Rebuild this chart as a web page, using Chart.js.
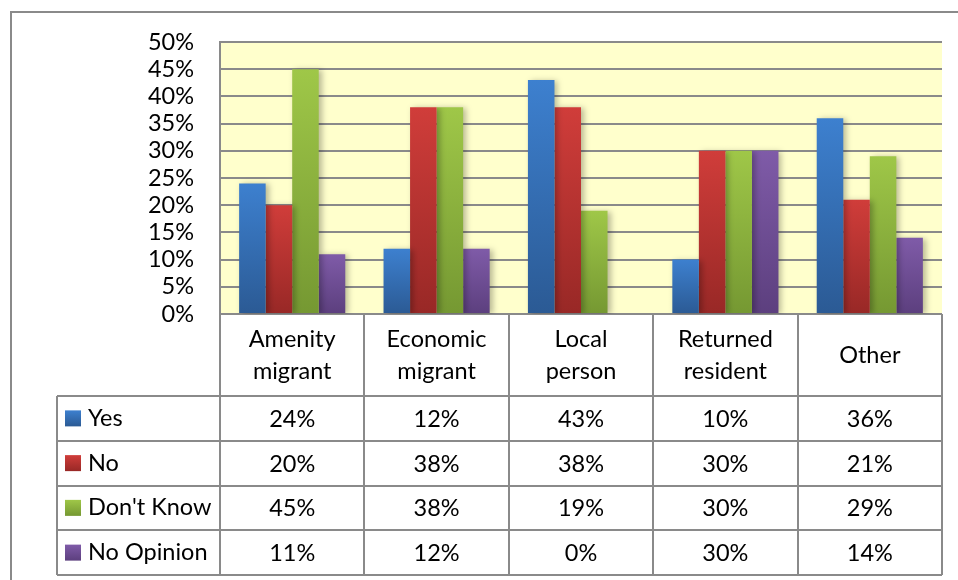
<!DOCTYPE html>
<html>
<head>
<meta charset="utf-8">
<script src="https://cdn.jsdelivr.net/npm/chart.js@4/dist/chart.umd.min.js"></script>
<style>
  html, body { margin: 0; padding: 0; background: #fff; }
  #wrap { width: 958px; height: 580px; position: relative; }
</style>
</head>
<body>
<div id="wrap"><canvas id="chart" width="958" height="580"></canvas></div>
<script>
/* =====================
   Data
   ===================== */
const categories = [
  ['Amenity', 'migrant'],
  ['Economic', 'migrant'],
  ['Local', 'person'],
  ['Returned', 'resident'],
  ['Other']
];
const seriesNames = ['Yes', 'No', "Don't Know", 'No Opinion'];
const yesValues = [24, 12, 43, 10, 36];
const noValues = [20, 38, 38, 30, 21];
const dontKnowValues = [45, 38, 19, 30, 29];
const noOpinionValues = [11, 12, 0, 30, 14];
const yTicks = [0, 5, 10, 15, 20, 25, 30, 35, 40, 45, 50];

// top / bottom gradient colours per series
const seriesColors = [
  ['#3d80cf', '#2b5a94'],
  ['#d03d3a', '#982826'],
  ['#9fc748', '#759832'],
  ['#7f5ba8', '#5c3f7e']
];

const FONT = "Lato, 'Open Sans', sans-serif";
const FONT_SIZE = 23.5;
const GRID = '#8a8a8a';

function barGradient(ctx, i) {
  const chart = ctx.chart;
  const [top, bottom] = seriesColors[i];
  const area = chart.chartArea;
  if (!area || ctx.type !== 'data') return top;
  const y = chart.scales.y.getPixelForValue(ctx.raw);
  const h = Math.max(area.bottom - y, 1);
  const g = chart.ctx.createLinearGradient(0, y, 0, y + h);
  g.addColorStop(0, top);
  g.addColorStop(1, bottom);
  return g;
}

const allValues = [yesValues, noValues, dontKnowValues, noOpinionValues];

// Plot background + bar shadows
const plotBg = {
  id: 'plotBg',
  beforeDraw(chart) {
    const { ctx, chartArea: a } = chart;
    ctx.save();
    ctx.fillStyle = '#ffffcc';
    ctx.fillRect(a.left, a.top, a.right - a.left, a.bottom - a.top);
    ctx.restore();
  },
  beforeDatasetsDraw(chart) {
    const ctx = chart.ctx;
    ctx.save();
    ctx.shadowColor = 'rgba(0,0,0,0.28)';
    ctx.shadowBlur = 6;
    ctx.shadowOffsetX = 3;
    ctx.shadowOffsetY = 1;
  },
  afterDatasetsDraw(chart) {
    chart.ctx.restore();
  }
};

// Data table under the plot, Excel style
const dataTable = {
  id: 'dataTable',
  afterDraw(chart) {
    const { ctx, chartArea: a } = chart;
    const xs = chart.scales.x;
    const colW = (a.right - a.left) / categories.length;
    const headerBottom = 396;
    const rowH = 44.75;
    const tableLeft = 57;
    const rows = seriesNames.map((_, i) => headerBottom + i * rowH);
    const tableBottom = headerBottom + seriesNames.length * rowH;

    ctx.save();
    ctx.strokeStyle = GRID;
    ctx.lineWidth = 2;

    // outer frame of the chart object
    ctx.beginPath();
    ctx.moveTo(11, 580);
    ctx.lineTo(11, 12);
    ctx.lineTo(958, 12);
    ctx.stroke();

    // vertical column lines
    ctx.beginPath();
    for (let i = 0; i <= categories.length; i++) {
      const x = Math.round(a.left + i * colW);
      ctx.moveTo(x, a.bottom);
      ctx.lineTo(x, tableBottom);
    }
    ctx.moveTo(tableLeft, headerBottom);
    ctx.lineTo(tableLeft, tableBottom);
    // horizontal row lines
    for (let r = 0; r <= seriesNames.length; r++) {
      const y = Math.round(headerBottom + r * rowH);
      ctx.moveTo(tableLeft, y);
      ctx.lineTo(a.right, y);
    }
    ctx.stroke();

    ctx.fillStyle = '#000';
    ctx.font = `${FONT_SIZE}px ${FONT}`;
    ctx.textAlign = 'center';
    ctx.textBaseline = 'middle';

    // header: category names
    const headerMid = (a.bottom + headerBottom) / 2;
    categories.forEach((lines, i) => {
      const cx = xs.getPixelForValue(i);
      const lh = 32;
      const y0 = headerMid - (lines.length - 1) * lh / 2;
      lines.forEach((t, k) => ctx.fillText(t, cx, y0 + k * lh));
    });

    // rows: legend key + values
    seriesNames.forEach((name, r) => {
      const cy = rows[r] + rowH / 2;
      const g = ctx.createLinearGradient(0, cy - 8, 0, cy + 8);
      g.addColorStop(0, seriesColors[r][0]);
      g.addColorStop(1, seriesColors[r][1]);
      ctx.fillStyle = g;
      ctx.fillRect(65, cy - 8, 16, 16);

      ctx.fillStyle = '#000';
      ctx.textAlign = 'left';
      ctx.fillText(name, 88, cy);
      ctx.textAlign = 'center';
      allValues[r].forEach((v, i) => {
        ctx.fillText(v + '%', xs.getPixelForValue(i), cy + 1);
      });
    });
    ctx.restore();
  }
};

new Chart(document.getElementById('chart'), {
  type: 'bar',
  data: {
    labels: categories.map(c => c.join(' ')),
    datasets: seriesNames.map((name, i) => ({
      label: name,
      data: allValues[i],
      backgroundColor: ctx => barGradient(ctx, i),
      borderWidth: 0,
      categoryPercentage: 0.735,
      barPercentage: 1.0
    }))
  },
  options: {
    responsive: false,
    animation: false,
    layout: { padding: { top: 42, right: 16, bottom: 266, left: 0 } },
    plugins: {
      legend: { display: false },
      tooltip: { enabled: false }
    },
    scales: {
      x: {
        display: false
      },
      y: {
        min: 0,
        max: 50,
        afterFit: s => { s.width = 220; },
        afterBuildTicks: s => { s.ticks = yTicks.map(v => ({ value: v })); },
        border: { display: true, color: GRID, width: 2 },
        grid: { color: GRID, lineWidth: 2, drawTicks: false },
        ticks: {
          autoSkip: false,
          padding: 26,
          color: '#000',
          font: { family: FONT, size: FONT_SIZE },
          callback: v => v + '%'
        }
      }
    }
  },
  plugins: [plotBg, dataTable]
});
</script>
</body>
</html>
